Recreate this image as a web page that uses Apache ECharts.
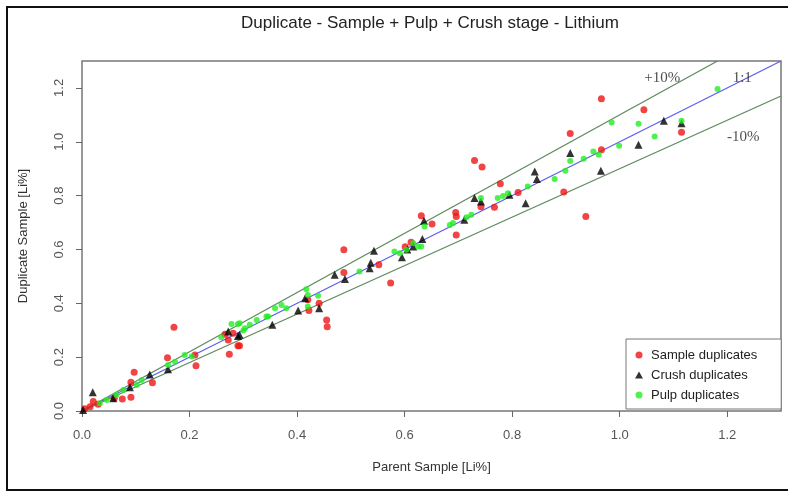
<!DOCTYPE html>
<html>
<head>
<meta charset="utf-8">
<script src="https://cdn.jsdelivr.net/npm/echarts@6/dist/echarts.min.js"></script>
<style>
  html, body { margin: 0; padding: 0; background: #fff; }
  #chart { width: 788px; height: 493px; }
</style>
</head>
<body>
<div id="chart"></div>
<script>
// values, [parent, duplicate] in Li%
const sampleDup = [
  [0.966, 1.160], [1.045, 1.119], [1.115, 1.035], [0.908, 1.031], [0.966, 0.970],
  [0.730, 0.930], [0.744, 0.906], [0.778, 0.844], [0.811, 0.812], [0.896, 0.813],
  [0.937, 0.722], [0.767, 0.757], [0.742, 0.759], [0.695, 0.737], [0.696, 0.722],
  [0.696, 0.654], [0.651, 0.695], [0.631, 0.725], [0.612, 0.627], [0.487, 0.599],
  [0.487, 0.514], [0.552, 0.543], [0.574, 0.475], [0.441, 0.400], [0.422, 0.373],
  [0.455, 0.338], [0.456, 0.313], [0.293, 0.242], [0.420, 0.413], [0.171, 0.311],
  [0.159, 0.198], [0.212, 0.168], [0.210, 0.208], [0.097, 0.144], [0.091, 0.107],
  [0.131, 0.105], [0.091, 0.051], [0.075, 0.045], [0.060, 0.047], [0.021, 0.035],
  [0.015, 0.016], [0.266, 0.285], [0.272, 0.264], [0.274, 0.211], [0.290, 0.242],
  [0.281, 0.289], [0.005, 0.008], [0.030, 0.025], [0.601, 0.610]
]
const crushDup = [
  [1.082, 1.078], [1.115, 1.069], [1.035, 0.989], [0.965, 0.892], [0.908, 0.958],
  [0.842, 0.890], [0.846, 0.862], [0.730, 0.791], [0.742, 0.778], [0.825, 0.772],
  [0.795, 0.803], [0.711, 0.710], [0.636, 0.707], [0.633, 0.639], [0.543, 0.595],
  [0.537, 0.551], [0.535, 0.530], [0.470, 0.506], [0.489, 0.490], [0.595, 0.571],
  [0.616, 0.611], [0.415, 0.419], [0.402, 0.373], [0.441, 0.382], [0.354, 0.320],
  [0.293, 0.283], [0.020, 0.070], [0.126, 0.136], [0.160, 0.155], [0.089, 0.088],
  [0.058, 0.047], [0.290, 0.279], [0.272, 0.295], [0.002, 0.004], [0.605, 0.600]
]
const pulpDup = [
  [1.182, 1.196], [0.985, 1.072], [1.035, 1.067], [1.065, 1.020], [0.999, 0.985],
  [1.115, 1.078], [0.951, 0.964], [0.961, 0.952], [0.933, 0.937], [0.908, 0.929],
  [0.899, 0.892], [0.879, 0.862], [0.829, 0.834], [0.792, 0.809], [0.783, 0.799],
  [0.773, 0.791], [0.742, 0.791], [0.724, 0.729], [0.715, 0.720], [0.690, 0.698],
  [0.684, 0.691], [0.637, 0.685], [0.631, 0.611], [0.581, 0.592], [0.591, 0.586],
  [0.603, 0.599], [0.616, 0.623], [0.625, 0.611], [0.516, 0.518], [0.417, 0.452],
  [0.420, 0.431], [0.439, 0.428], [0.420, 0.388], [0.371, 0.394], [0.359, 0.382],
  [0.380, 0.382], [0.346, 0.351], [0.312, 0.320], [0.303, 0.307], [0.293, 0.326],
  [0.278, 0.323], [0.290, 0.323], [0.343, 0.351], [0.259, 0.274], [0.300, 0.299],
  [0.191, 0.208], [0.204, 0.202], [0.173, 0.183], [0.160, 0.171], [0.111, 0.115],
  [0.102, 0.097], [0.077, 0.078], [0.064, 0.059], [0.046, 0.041], [0.033, 0.029],
  [0.325, 0.338]
]
// reference lines: 1:1 and +/-10%
const lineOneToOne = [[0, 0], [1.3, 1.3]]
const linePlus10 = [[0, 0], [1.3 / 1.1, 1.3]]
const lineMinus10 = [[0, 0], [1.3, 1.17]]
const lineLabels = [
  { value: [1.079, 1.238], name: '+10%' },
  { value: [1.228, 1.238], name: '1:1' },
  { value: [1.230, 1.017], name: '-10%' }
]
const tickValues = [0, 0.2, 0.4, 0.6, 0.8, 1.0, 1.2]

const chart = echarts.init(document.getElementById('chart'))
const font = 'Liberation Sans, Arial, sans-serif'

const axisCommon = {
  type: 'value',
  min: 0,
  max: 1.3,
  nameLocation: 'middle',
  nameTextStyle: { fontFamily: font, fontSize: 13, color: '#333' },
  axisLine: { show: false },
  splitLine: { show: false },
  axisTick: { show: true, inside: false, length: 6, customValues: tickValues, lineStyle: { color: '#666', width: 1 } },
  axisLabel: {
    customValues: tickValues,
    fontFamily: font,
    fontSize: 13,
    color: '#555',
    formatter: v => v.toFixed(1)
  }
}

chart.setOption({
  animation: false,
  backgroundColor: '#fff',
  title: {
    text: 'Duplicate - Sample + Pulp + Crush stage - Lithium',
    left: 236,
    top: 10,
    textStyle: { fontFamily: font, fontSize: 17, fontWeight: 'normal', color: '#222' }
  },
  grid: {
    left: 82, right: 7, top: 61, bottom: 82,
    show: true, borderColor: '#777', borderWidth: 1.5
  },
  xAxis: Object.assign({}, axisCommon, {
    name: 'Parent Sample [Li%]',
    nameGap: 50,
    axisLabel: Object.assign({}, axisCommon.axisLabel, { margin: 18 })
  }),
  yAxis: Object.assign({}, axisCommon, {
    name: 'Duplicate Sample [Li%]',
    nameGap: 52,
    axisLabel: Object.assign({}, axisCommon.axisLabel, { rotate: 90, margin: 16 })
  }),
  legend: {
    orient: 'vertical',
    left: 626,
    top: 339,
    padding: [9, 24, 7, 9],
    itemWidth: 8,
    itemHeight: 7,
    itemGap: 6,
    borderColor: '#777',
    borderWidth: 1,
    backgroundColor: '#fff',
    textStyle: { fontFamily: font, fontSize: 13, color: '#222', lineHeight: 14, padding: [0, 0, 0, 3] },
    data: [
      { name: 'Sample duplicates', icon: 'circle' },
      { name: 'Crush duplicates', icon: 'triangle' },
      { name: 'Pulp duplicates', icon: 'circle' }
    ]
  },
  graphic: [{
    type: 'rect',
    shape: { x: 7, y: 7, width: 800, height: 483 },
    style: { fill: null, stroke: '#111', lineWidth: 2 },
    silent: true
  }],
  series: [
    {
      type: 'line', data: lineOneToOne, symbol: 'none', silent: true, z: 1,
      lineStyle: { color: '#5b5bf0', width: 1.2 }
    },
    {
      type: 'line', data: linePlus10, symbol: 'none', silent: true, z: 1,
      lineStyle: { color: '#5e8a5e', width: 1.3 }
    },
    {
      type: 'line', data: lineMinus10, symbol: 'none', silent: true, z: 1,
      lineStyle: { color: '#5e8a5e', width: 1.3 }
    },
    {
      name: 'Sample duplicates', type: 'scatter', data: sampleDup, z: 2,
      symbol: 'circle', symbolSize: 7,
      itemStyle: { color: '#ee1515' }
    },
    {
      name: 'Crush duplicates', type: 'scatter', data: crushDup, z: 3,
      symbol: 'triangle', symbolSize: [8, 8],
      itemStyle: { color: '#000' }
    },
    {
      name: 'Pulp duplicates', type: 'scatter', data: pulpDup, z: 4,
      symbol: 'circle', symbolSize: 6,
      itemStyle: { color: '#22ee22' }
    },
    {
      type: 'scatter', data: lineLabels, symbolSize: 0, silent: true, z: 5,
      label: {
        show: true, position: 'inside', formatter: '{b}',
        fontFamily: 'Liberation Serif, serif', fontSize: 15, color: '#222'
      }
    }
  ]
})
</script>
</body>
</html>
